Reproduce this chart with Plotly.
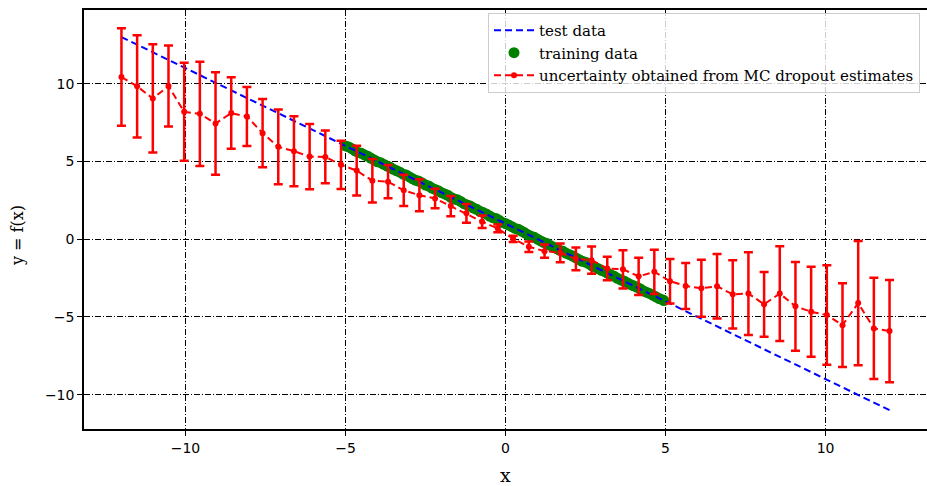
import plotly.graph_objects as go

# test data (straight line)
test_x = [-12.0, 12.0]
test_y = [13.0, -11.0]

# training data
train_x = [-5.0, -4.9, -4.8, -4.7, -4.6, -4.5, -4.4, -4.3, -4.2, -4.1, -4.0, -3.9, -3.8, -3.7, -3.6,
           -3.5, -3.4, -3.3, -3.2, -3.1, -3.0, -2.9, -2.8, -2.7, -2.6, -2.5, -2.4, -2.3, -2.2, -2.1,
           -2.0, -1.9, -1.8, -1.7, -1.6, -1.5, -1.4, -1.3, -1.2, -1.1, -1.0, -0.9, -0.8, -0.7, -0.6,
           -0.5, -0.4, -0.3, -0.2, -0.1, 0.0, 0.1, 0.2, 0.3, 0.4, 0.5, 0.6, 0.7, 0.8, 0.9, 1.0,
           1.1, 1.2, 1.3, 1.4, 1.5, 1.6, 1.7, 1.8, 1.9, 2.0, 2.1, 2.2, 2.3, 2.4, 2.5, 2.6, 2.7, 2.8,
           2.9, 3.0, 3.1, 3.2, 3.3, 3.4, 3.5, 3.6, 3.7, 3.8, 3.9, 4.0, 4.1, 4.2, 4.3, 4.4, 4.5, 4.6,
           4.7, 4.8, 4.9, 4.95]
train_y = [6.0, 5.93, 5.82, 5.68, 5.58, 5.52, 5.41, 5.33, 5.2, 5.09, 4.98, 4.92, 4.81, 4.7, 4.62,
           4.49, 4.4, 4.31, 4.18, 4.12, 4.0, 3.88, 3.79, 3.72, 3.61, 3.48, 3.42, 3.29, 3.2, 3.12,
           2.99, 2.91, 2.82, 2.68, 2.58, 2.53, 2.43, 2.28, 2.2, 2.13, 2.0, 1.92, 1.79, 1.71, 1.62,
           1.49, 1.38, 1.33, 1.21, 1.08, 1.0, 0.91, 0.8, 0.69, 0.63, 0.52, 0.41, 0.28, 0.18, 0.12,
           0.0, -0.11, -0.22, -0.28, -0.4, -0.52, -0.61, -0.72, -0.78, -0.91, -1.0, -1.09, -1.21,
           -1.32, -1.42, -1.48, -1.58, -1.71, -1.8, -1.9, -2.01, -2.08, -2.2, -2.31, -2.39, -2.52,
           -2.62, -2.69, -2.8, -2.91, -3.0, -3.08, -3.19, -3.32, -3.41, -3.49, -3.6, -3.71, -3.82,
           -3.89, -3.95]

# MC dropout estimates
mc_x = [-12.0, -11.51, -11.02, -10.53, -10.04, -9.55, -9.06, -8.57, -8.08, -7.59, -7.1, -6.61, -6.12,
        -5.63, -5.14, -4.65, -4.16, -3.67, -3.18, -2.69, -2.2, -1.71, -1.22, -0.73, -0.24, 0.24, 0.73,
        1.22, 1.71, 2.2, 2.69, 3.18, 3.67, 4.16, 4.65, 5.14, 5.63, 6.12, 6.61, 7.1, 7.59, 8.08, 8.57,
        9.06, 9.55, 10.04, 10.53, 11.02, 11.51, 12.0]
mc_mean = [10.43, 9.83, 9.05, 9.85, 8.19, 8.06, 7.44, 8.11, 7.89, 6.82, 5.94, 5.66, 5.31, 5.29, 4.78,
           4.41, 3.76, 3.70, 3.14, 2.82, 2.62, 2.13, 1.66, 1.12, 0.69, 0.02, -0.49, -0.77, -0.88, -1.27,
           -1.35, -1.89, -1.94, -2.39, -2.10, -2.70, -3.01, -3.16, -3.03, -3.55, -3.50, -4.19, -3.50,
           -4.32, -4.67, -4.88, -5.53, -4.11, -5.74, -5.91]
mc_err = [3.13, 3.29, 3.48, 2.6, 3.15, 3.35, 3.3, 2.3, 1.9, 2.2, 2.4, 2.25, 2.1, 1.7, 1.55, 1.6, 1.4,
          1.07, 1.0, 1.03, 0.63, 0.65, 0.6, 0.4, 0.25, 0.2, 0.34, 0.43, 0.6, 0.73, 0.88, 0.76, 1.23, 1.2,
          1.42, 1.43, 1.48, 1.83, 2.08, 2.2, 2.66, 2.08, 3.05, 2.85, 2.89, 3.2, 2.7, 4.0, 3.26, 3.29]

tick_vals = [-10, -5, 0, 5, 10]

fig = go.Figure()
fig.add_trace(go.Scatter(
    x=train_x, y=train_y, mode="markers", name="training data", legendrank=2,
    marker=dict(color="green", size=11, line=dict(width=0)),
))
fig.add_trace(go.Scatter(
    x=test_x, y=test_y, mode="lines", name="test data", legendrank=1,
    line=dict(color="blue", width=2, dash="7px,4px"),
))
fig.add_trace(go.Scatter(
    x=mc_x, y=mc_mean, mode="lines+markers", legendrank=3,
    name="uncertainty obtained from MC dropout estimates",
    line=dict(color="red", width=2, dash="7px,4px"),
    marker=dict(color="red", size=6),
    error_y=dict(type="data", array=mc_err, visible=True, color="red", thickness=2.5, width=4.5),
))

axis_common = dict(
    showline=True, linecolor="black", linewidth=1.5, mirror=True,
    ticks="outside", ticklen=5, tickwidth=1.3, tickcolor="black",
    showgrid=True, gridcolor="black", gridwidth=0.8, griddash="6px,2px,1px,2px",
    zeroline=False, tickvals=tick_vals, automargin=False,
    tickfont=dict(family="DejaVu Sans", size=14, color="black"),
)

fig.update_xaxes(range=[-13.17, 13.17], **axis_common)
fig.update_yaxes(range=[-12.21, 14.74], **axis_common)

fig.add_annotation(text="x", xref="paper", yref="paper", x=(505 - 84) / 843, y=-(475 - 429) / 419,
                   xanchor="center", yanchor="middle", showarrow=False, height=16,
                   font=dict(family="DejaVu Serif", size=19, color="black"))
fig.add_annotation(text="y = f(x)", xref="paper", yref="paper", x=-(84 - 17) / 843, y=(429 - 236) / 419,
                   xanchor="center", yanchor="middle", showarrow=False, textangle=-90,
                   font=dict(family="DejaVu Serif", size=16, color="black"))

fig.update_layout(
    width=927, height=486,
    margin=dict(l=84, r=0, t=10, b=57, autoexpand=False),
    plot_bgcolor="white", paper_bgcolor="white",
    legend=dict(
        x=0.9917, y=0.993, xanchor="right", yanchor="top",
        bgcolor="rgba(255,255,255,0.8)", bordercolor="#cccccc", borderwidth=1,
        font=dict(family="DejaVu Serif", size=15, color="black"),
        tracegroupgap=0, itemwidth=40,
    ),
    showlegend=True,
)

fig.write_html(
    "out.html",
    config={"displayModeBar": False},
    post_script="document.body.style.margin='0';document.body.style.padding='0';"
                "document.body.style.overflow='hidden';",
)
